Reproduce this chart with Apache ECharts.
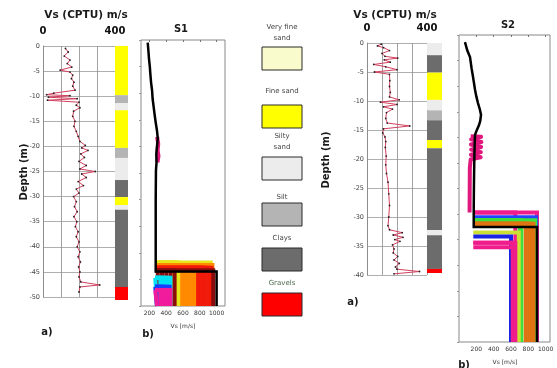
<!DOCTYPE html>
<html>
<head>
<meta charset="utf-8">
<script src="https://cdn.jsdelivr.net/npm/echarts@6/dist/echarts.min.js"></script>
<style>html,body{margin:0;padding:0;background:#fff}#c{width:557px;height:368px}</style>
</head>
<body>
<div id="c"></div>
<script>
// ---- Soil classes (legend and lithology columns) ----
const soilNames = ['Very fine\nsand', 'Fine sand', 'Silty\nsand', 'Silt', 'Clays', 'Gravels'];

// ---- Lithology logs: [top depth m, bottom depth m, soil class index] ----
const lithoS1 = [[0,9.8,1],[9.8,11.4,3],[11.4,12.8,2],[12.8,20.3,1],[20.3,22.3,3],[22.3,26.7,2],
  [26.7,30.1,4],[30.1,31.7,1],[31.7,32.6,2],[32.6,48,4],[48,50.6,5]];
const lithoS2 = [[0,2.1,2],[2.1,5.1,4],[5.1,9.8,1],[9.8,11.6,2],[11.6,13.3,3],[13.3,16.7,4],
  [16.7,18.1,1],[18.1,32.2,4],[32.2,33.1,2],[33.1,38.9,4],[38.9,39.6,5]];

// ---- Vs from CPTU: [Vs m/s, depth m] ----
const cptuS1 = [[125,0.5],[140,1.2],[118,2],[150,2.8],[135,3.5],[160,4.2],[95,4.8],[150,5.2],[165,5.8],
  [158,6.5],[172,7.2],[165,8],[178,8.8],[60,9.4],[20,9.7],[150,9.9],[30,10.2],[190,10.5],[25,10.8],
  [200,11.2],[185,11.8],[205,12.3],[170,13],[165,14],[178,15],[172,16],[185,17],[195,18],[205,19],
  [235,19.8],[215,20.3],[250,20.8],[210,21.5],[230,22.2],[200,23],[240,23.8],[205,24.5],[290,25],
  [215,25.5],[240,26.2],[195,27],[225,27.8],[185,28.5],[200,29.3],[170,30],[185,31],[175,32],[190,33],
  [172,34],[188,35],[180,36],[195,37],[185,38],[200,39],[190,40],[205,41],[195,42],[208,43],[198,44],
  [205,45],[200,46],[210,47],[315,47.6],[205,48],[200,49]];
const cptuS2 = [[95,0.2],[70,0.5],[110,0.8],[150,1.3],[100,1.8],[120,2.3],[205,2.6],[115,2.9],[155,3.3],
  [45,3.7],[125,4.1],[200,4.6],[50,5],[150,5.4],[152,6.5],[150,7.5],[155,8.5],[150,9.3],[215,9.8],
  [90,10.2],[200,10.6],[110,11],[170,11.4],[130,12],[125,13],[135,13.8],[285,14.3],[110,14.8],
  [105,15.5],[120,16.2],[125,17],[122,18],[128,19.5],[125,21],[130,22.5],[140,24],[145,26],[150,28],
  [145,30],[140,31.5],[150,32.2],[235,32.7],[175,33.1],[240,33.5],[185,33.9],[220,34.2],[170,34.8],
  [180,35.5],[175,36.2],[205,36.8],[180,37.4],[215,38],[190,38.6],[200,39],[350,39.4],[180,39.8]];

// ---- Inverted Vs profiles, S1 ----
const s1Best = [[180,0.5],[188,2],[195,3.5],[205,5],[212,6.5],[220,8],[232,9.5],[238,11],[250,12.5],
  [262,14],[275,15.5],[290,17],[300,18.5],[290,20],[282,21.5],[285,23],[278,24.5],[275,30],[275,43.5],
  [1000,43.5],[1000,50]];
const s1Upper = [[292,18.2],[305,19.5],[298,20.8],[308,21.8],[296,23]];
const s1LowVs = 270;
const s1IfaceDepth = [41.8, 42.3, 42.8, 43.3, 44.7, 46.4, 47.0];
const s1HalfVs = [[490,520,550,930],[590,630,670,710,750,950],[780,820,860,900,940],
  [300,350,400,450,500,960],[290,330,370,410,450],[290,330,370,410,440],[290,330,370,410,450]];

// ---- Inverted Vs profiles, S2 ----
const s2Best = [[69,1.4],[95,3],[127,4.3],[145,6.5],[162,8.2],[185,10.7],[200,12],[219,13.3],[240,14.5],
  [254,15.6],[245,16.8],[231,17.6],[205,18.6],[185,19.5],[180,22],[175,26],[172,30],[170,34],[170,37.5],
  [900,37.5],[900,60]];
const s2Upper = [[135,19.8],[255,19.9],[140,20.4],[258,20.9],[138,21.4],[255,21.9],[140,22.4],[252,22.9],
  [138,23.4],[250,23.9],[135,24.3],[125,26],[122,34.7]];
const s2LowVs = 165;
const s2IfaceDepth = [34.7, 35.6, 36.2, 36.9, 38.6, 39.4, 40.6, 41.5];
const s2HalfVs = [[650,900],[890],[700,720,880],[770,800,830,860],[690],[600],[620,650],[640]];

// Velocity tick labels under the profile panels
const vsTicks = [200, 400, 600, 800, 1000];

// ---- Styles ----
const soilColors = ['#f9fbcc', '#ffff00', '#ececec', '#b4b4b4', '#6c6c6c', '#ff0000'];
const s1Colors = ['#e6e61c','#ff8a00','#f21a0a','#8a0c0c','#00e2f2','#1a3cff','#f01c9c'];
const s2Colors = ['#f01c8c','#2244ff','#3ee03e','#e07412','#cce034','#1a22e6','#f01c8c','#f01c8c'];
const FONT = '"DejaVu Sans", "Liberation Sans", sans-serif';

const chart = echarts.init(document.getElementById('c'), null, {renderer: 'canvas'});

function lithoItem(params, api) {
  const a = api.coord([0, api.value(0)]);
  const b = api.coord([1, api.value(1)]);
  return {type: 'rect', shape: {x: a[0], y: a[1], width: b[0] - a[0], height: b[1] - a[1]},
    style: {fill: soilColors[api.value(2)]}};
}

const depthFmt = v => (v === 0 ? '0' : '-' + v);

function cptuAxes(gi, maxDepth) {
  return {
    x: {gridIndex: gi, type: 'value', position: 'top', min: 0, max: 400, interval: 100,
      axisLine: {show: false}, axisTick: {show: false},
      axisLabel: {fontSize: 10, fontWeight: 'bold', fontFamily: FONT, color: '#111', margin: 10,
        formatter: v => (v === 0 || v === 400 ? String(v) : '')},
      splitLine: {show: true, lineStyle: {color: '#8a8a8a', width: 0.8}}},
    y: {gridIndex: gi, type: 'value', min: 0, max: maxDepth, interval: 5, inverse: true,
      axisLine: {show: true, lineStyle: {color: '#888', width: 0.8}}, axisTick: {show: false},
      axisLabel: {fontSize: 6.5, fontFamily: FONT, color: '#444', margin: 3, formatter: depthFmt},
      splitLine: {show: true, lineStyle: {color: '#9a9a9a', width: 0.8}}}
  };
}

function profileAxes(gi, xmin, xmax, ymax) {
  return {
    x: {gridIndex: gi, type: 'value', min: xmin, max: xmax,
      axisLine: {show: false},
      axisTick: {show: true, customValues: vsTicks, length: 2, lineStyle: {color: '#777'}},
      axisLabel: {customValues: vsTicks, fontSize: 6, fontFamily: FONT, color: '#333', margin: 4,
        formatter: v => String(v)},
      splitLine: {show: false}},
    y: {gridIndex: gi, type: 'value', min: 0, max: ymax, interval: 5, inverse: true,
      axisLine: {show: false}, axisTick: {show: true, length: 2, lineStyle: {color: '#999'}},
      axisLabel: {show: false}, splitLine: {show: false}}
  };
}

const a1 = cptuAxes(0, 50), a2 = cptuAxes(3, 40);
const p1 = profileAxes(2, 100, 1100, 50), p2 = profileAxes(5, 0, 1050, 60);
const litX = gi => ({gridIndex: gi, type: 'value', min: 0, max: 1, show: false});
const litY = (gi, m) => ({gridIndex: gi, type: 'value', min: 0, max: m, inverse: true, show: false});

const series = [];
function cptuSeries(data, xi) {
  series.push({type: 'line', xAxisIndex: xi, yAxisIndex: xi, data: data, showSymbol: true,
    symbol: 'circle', symbolSize: 1.8, itemStyle: {color: '#222'},
    lineStyle: {color: '#d2405e', width: 1}, silent: true});
}
cptuSeries(cptuS1, 0);
cptuSeries(cptuS2, 3);

series.push({type: 'custom', xAxisIndex: 1, yAxisIndex: 1, data: lithoS1, renderItem: lithoItem, silent: true});
series.push({type: 'custom', xAxisIndex: 4, yAxisIndex: 4, data: lithoS2, renderItem: lithoItem, silent: true});

function ensemble(ai, ifaces, halves, lowVs, bottom, colors, upper, best) {
  ifaces.forEach((d, g) => {
    halves[g].forEach(vs => {
      series.push({type: 'line', xAxisIndex: ai, yAxisIndex: ai, showSymbol: false, silent: true,
        data: [[lowVs, d], [vs, d], [vs, bottom]],
        lineStyle: {color: colors[g], width: 4, cap: 'butt', join: 'miter'}});
    });
  });
  series.push({type: 'line', xAxisIndex: ai, yAxisIndex: ai, showSymbol: false, silent: true,
    data: upper, lineStyle: {color: '#e0187e', width: 4, join: 'round'}});
  series.push({type: 'line', xAxisIndex: ai, yAxisIndex: ai, showSymbol: false, silent: true,
    data: best, lineStyle: {color: '#000', width: 2.5, join: 'miter'}});
}
ensemble(2, s1IfaceDepth, s1HalfVs, s1LowVs, 50, s1Colors, s1Upper, s1Best);
ensemble(5, s2IfaceDepth, s2HalfVs, s2LowVs, 60, s2Colors, s2Upper, s2Best);

// ---- Text and legend ----
const graphic = [];
function txt(x, y, s, opt) {
  graphic.push({type: 'text', x: x, y: y, silent: true,
    style: Object.assign({text: s, fontFamily: FONT, fontSize: 10, fontWeight: 'bold', fill: '#1a1a1a',
      align: 'center', verticalAlign: 'middle', textAlign: 'center', textVerticalAlign: 'middle'}, opt || {})});
}
txt(86, 15, 'Vs (CPTU) m/s', {fontSize: 10.5});
txt(395, 15, 'Vs (CPTU) m/s', {fontSize: 10.5});
txt(181, 29, 'S1');
txt(508, 25, 'S2');
txt(47, 332, 'a)');
txt(353, 302, 'a)');
txt(148, 334, 'b)');
txt(464, 365, 'b)');
txt(183, 326, 'Vs [m/s]', {fontSize: 6, fontWeight: 'normal', fill: '#333'});
txt(505, 362, 'Vs [m/s]', {fontSize: 6, fontWeight: 'normal', fill: '#333'});
[[24, 172], [326, 160]].forEach(p => {
  graphic.push({type: 'text', x: p[0], y: p[1], rotation: Math.PI / 2, silent: true,
    style: {text: 'Depth (m)', fontFamily: FONT, fontSize: 10, fontWeight: 'bold', fill: '#1a1a1a',
      align: 'center', verticalAlign: 'middle', textAlign: 'center', textVerticalAlign: 'middle'}});
});

// legend column layout
const legendX = 262, legendW = 40, legendH = 23;
const legendTextTop = [22, 86, 131, 192, 233, 278];
const legendBoxTop = [47, 105, 157, 203, 248, 293];
soilNames.forEach((name, i) => {
  graphic.push({type: 'text', x: legendX + legendW / 2, y: legendTextTop[i], silent: true,
    style: {text: name, fontFamily: FONT, fontSize: 7, lineHeight: 11, fill: i === 5 ? '#4d6b50' : '#444',
      align: 'center', verticalAlign: 'top', textAlign: 'center', textVerticalAlign: 'top'}});
  graphic.push({type: 'rect', silent: true,
    shape: {x: legendX, y: legendBoxTop[i], width: legendW, height: legendH},
    style: {fill: soilColors[i], stroke: '#2a2a2a', lineWidth: 1}});
});

chart.setOption({
  animation: false,
  backgroundColor: '#fff',
  grid: [
    {left: 43, top: 46, width: 72, height: 251},
    {left: 115, top: 46, width: 13, height: 254},
    {left: 141, top: 40, width: 84, height: 266, show: true, borderColor: '#888', borderWidth: 1},
    {left: 367, top: 43, width: 60, height: 232},
    {left: 427, top: 43, width: 15, height: 230},
    {left: 459, top: 35, width: 91, height: 307, show: true, borderColor: '#888', borderWidth: 1}
  ],
  xAxis: [a1.x, litX(1), p1.x, a2.x, litX(4), p2.x],
  yAxis: [a1.y, litY(1, 50.6), p1.y, a2.y, litY(4, 39.6), p2.y],
  series: series,
  graphic: graphic
});
</script>
</body>
</html>
